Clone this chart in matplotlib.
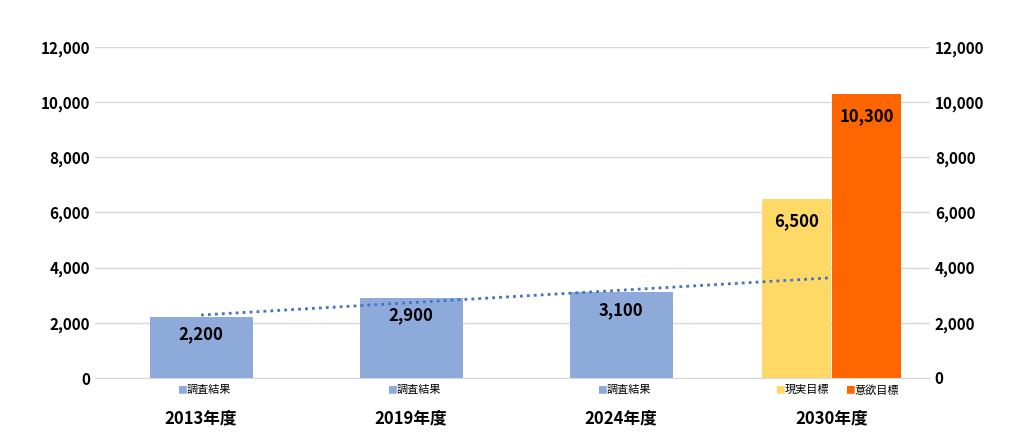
import matplotlib
matplotlib.use("Agg")
import matplotlib.pyplot as plt
import numpy as np

plt.rcParams['font.family'] = ['Noto Sans CJK JP', 'DejaVu Sans']

years = ["2013年度", "2019年度", "2024年度", "2030年度"]
survey = [2200, 2900, 3100]
realistic = 6500
ambitious = 10300
sub_survey = "調査結果"
sub_real = "現実目標"
sub_amb = "意欲目標"
c_blue = "#8eaadb"
c_yel = "#ffd966"
c_org = "#ff6600"

fig = plt.figure(figsize=(10.24, 4.48), dpi=100)
ax = fig.add_axes([95/1024, 1-378/448, 835/1024, 331/448])
ax.set_xlim(-0.505, 3.47)
ax.set_ylim(0, 12000)
w = 0.49
xs = np.arange(3)
ax.bar(xs, survey, width=w, color=c_blue, zorder=2)
ax.bar(3 - 0.165, realistic, width=0.33, color=c_yel, zorder=2)
ax.bar(3 + 0.168, ambitious, width=0.33, color=c_org, zorder=2)
for x, v in zip(xs, survey):
    ax.text(x, v - 300, f"{v:,}", ha='center', va='top', fontsize=12, fontweight='bold', zorder=4)
ax.text(3 - 0.165, realistic - 500, f"{realistic:,}", ha='center', va='top', fontsize=12, fontweight='bold', zorder=4)
ax.text(3 + 0.168, ambitious - 500, f"{ambitious:,}", ha='center', va='top', fontsize=12, fontweight='bold', zorder=4)

p = np.polyfit(xs, survey, 1)
tx = np.array([0, 3.0])
ax.plot(tx, np.polyval(p, tx), ls=(0, (1, 1.5)), color="#4472c4", lw=2, zorder=3)

ax.set_yticks(range(0, 12001, 2000))
ax.grid(axis='y', color='#d9d9d9', lw=1, zorder=0)
ax.tick_params(length=0, labelsize=11)
ax.set_yticklabels([f"{v:,}" for v in range(0, 12001, 2000)], fontweight='bold')
ax.set_xticks([])
for s in ['top', 'right', 'left']:
    ax.spines[s].set_visible(False)
ax.spines['bottom'].set_color('#d9d9d9')
ax2 = ax.twinx()
ax2.set_ylim(0, 12000)
ax2.set_yticks(range(0, 12001, 2000))
ax2.set_yticklabels([f"{v:,}" for v in range(0, 12001, 2000)], fontweight='bold')
ax2.tick_params(length=0, labelsize=11)
for s in ax2.spines.values():
    s.set_visible(False)

from matplotlib.transforms import blended_transform_factory
tr = blended_transform_factory(ax.transData, fig.transFigure)
def sub(x, label, color):
    ax.text(x - 0.09, 1-390/448, "■", color=color, fontsize=7, ha='right', va='center', transform=tr)
    ax.text(x - 0.09, 1-390/448, label, fontsize=8, ha='left', va='center', transform=tr)
for x in xs:
    sub(x + 0.02, sub_survey, c_blue)
sub(3 - 0.13, sub_real, c_yel)
sub(3 + 0.2, sub_amb, c_org)
for x, y in enumerate(years):
    ax.text(x, 1-418/448, y, ha='center', va='center', fontsize=12, fontweight='bold', transform=tr)

fig.savefig("out.png", dpi=100)
